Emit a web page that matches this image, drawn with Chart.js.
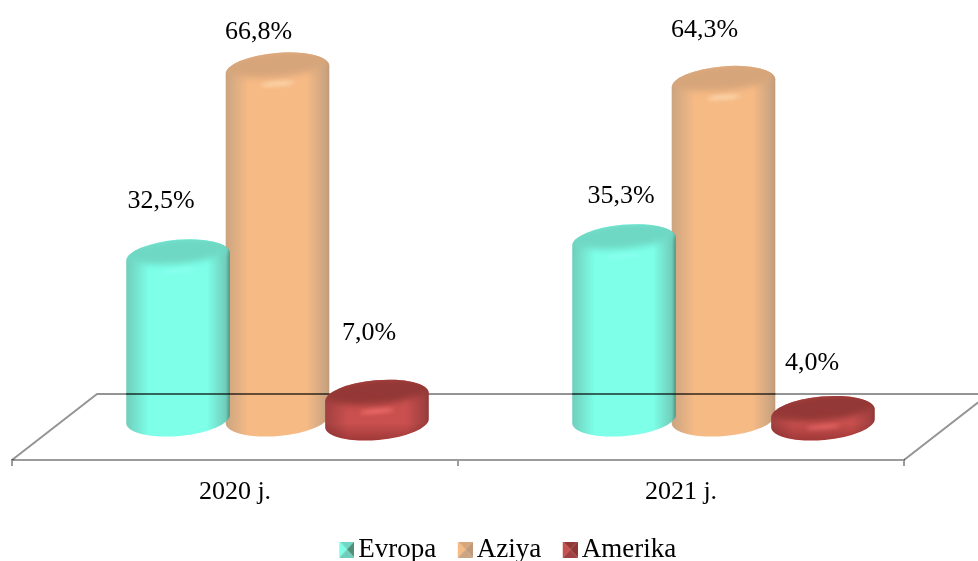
<!DOCTYPE html>
<html>
<head>
<meta charset="utf-8">
<title>Chart</title>
<script src="https://cdn.jsdelivr.net/npm/chart.js@4"></script>
<style>
  html, body { margin: 0; padding: 0; background: #fff; }
  canvas { display: block; }
</style>
</head>
<body>
<canvas id="chart" width="978" height="561"></canvas>
<script>
const categories = ['2020 j.', '2021 j.'];
const evropa = [32.5, 35.3];
const aziya = [66.8, 64.3];
const amerika = [7.0, 4.0];

const serif = "'Liberation Serif', 'Times New Roman', serif";
const gridGrey = '#9c9c9c';

// colours of the three cylinders: rim, side edge, side middle, cap, highlight
const shades = [
  { rim: '#4f8f78', edge: '#70cdbb', mid: '#7dffe8', cap: '#6fd8c4', glow: '#8cfff0' },
  { rim: '#c09a78', edge: '#cba481', mid: '#f6ba85', cap: '#d6a57a', glow: '#fdd9b2' },
  { rim: '#8f3634', edge: '#a04040', mid: '#c9504e', cap: '#933836', glow: '#f5706e' }
];

// label nudges from the top of each bar, [series][category]
const labelNudge = [
  [[-17, -54], [-3, -44]],
  [[-19, -38], [-19, -53]],
  [[-8, -60], [-11, -46]]
];

// small perspective corrections per series
const topDrop = [1.5, 0, 4];
const bottomLift = [12, 12, 8];

const floorDepthX = 85;
const floorDepthY = 66;

function cylinder(ctx, bar, yTop, yBottom, s, dark) {
  const rx = 52, ry = 17, rot = -5 * Math.PI / 180;
  const cx = bar.x + floorDepthX / 2;

  const shape = new Path2D();
  shape.ellipse(cx, yBottom, rx, ry, rot, 0, Math.PI);
  shape.ellipse(cx, yTop, rx, ry, rot, Math.PI, Math.PI * 2);
  shape.closePath();

  const side = ctx.createLinearGradient(cx - rx, 0, cx + rx, 0);
  side.addColorStop(0, s.edge);
  side.addColorStop(0.22, s.mid);
  side.addColorStop(0.78, s.mid);
  side.addColorStop(0.96, s.edge);
  side.addColorStop(1, s.rim);

  ctx.save();
  ctx.fillStyle = side;
  ctx.fill(shape);
  ctx.clip(shape);

  // soft dark top that fades into the side, small highlight at the front
  ctx.filter = 'blur(3px)';
  ctx.fillStyle = s.cap;
  ctx.beginPath();
  ctx.ellipse(cx, yTop - 6, rx + 1, ry - 4, rot, 0, Math.PI * 2);
  ctx.fill();
  ctx.filter = 'blur(2px)';
  ctx.fillStyle = s.glow;
  ctx.beginPath();
  ctx.ellipse(cx, yTop + ry - 3, 17, 2, rot, 0, Math.PI * 2);
  ctx.fill();
  ctx.filter = 'none';

  if (dark) {
    const low = ctx.createLinearGradient(0, yBottom, 0, yBottom + ry);
    low.addColorStop(0, 'rgba(110,30,30,0)');
    low.addColorStop(1, 'rgba(110,30,30,0.45)');
    ctx.fillStyle = low;
    ctx.fill(shape);
  }
  ctx.restore();
}

function drawSeries(chart, i) {
  const zero = chart.scales.y.getPixelForValue(0);
  chart.getDatasetMeta(i).data.forEach((bar) => {
    cylinder(chart.ctx, bar, bar.y + topDrop[i], zero - bottomLift[i], shades[i], i === 2);
  });
}

const cylinders = {
  id: 'cylinders',
  afterLayout(chart) {
    // legend sits lower and further right than the default box allows
    chart.legend.left += 39;
    chart.legend.right += 39;
    chart.legend.top += 12;
    chart.legend.bottom += 12;
  },
  beforeDatasetsDraw(chart) {
    drawSeries(chart, 1);
    drawSeries(chart, 0);
  },
  afterDatasetsDraw(chart) {
    const { ctx, chartArea } = chart;

    // floor outline runs through the see-through bars but behind the red ones
    const x0 = chartArea.left, x1 = chartArea.right, y0 = chartArea.bottom;
    const yBack = y0 - floorDepthY;
    ctx.save();
    ctx.strokeStyle = 'rgba(0,0,0,0.42)';
    ctx.lineWidth = 2;
    ctx.lineJoin = 'round';
    ctx.beginPath();
    ctx.moveTo(x0, y0);
    ctx.lineTo(x0 + floorDepthX, yBack);
    ctx.lineTo(x1 + floorDepthX, yBack);
    ctx.lineTo(x1, y0);
    ctx.stroke();

    // line reads darker where it shows through the bars
    ctx.strokeStyle = 'rgba(0,0,0,0.3)';
    chart.getDatasetMeta(0).data.forEach((bar, j) => {
      const next = chart.getDatasetMeta(1).data[j];
      ctx.beginPath();
      ctx.moveTo(bar.x + floorDepthX / 2 - 52, yBack);
      ctx.lineTo(next.x + floorDepthX / 2 + 52, yBack);
      ctx.stroke();
    });
    ctx.restore();

    drawSeries(chart, 2);

    // value labels
    ctx.save();
    ctx.font = '26px ' + serif;
    ctx.fillStyle = '#000';
    ctx.textAlign = 'center';
    ctx.textBaseline = 'middle';
    chart.data.datasets.forEach((ds, i) => {
      chart.getDatasetMeta(i).data.forEach((bar, j) => {
        const text = ds.data[j].toFixed(1).replace('.', ',') + '%';
        const nudge = labelNudge[i][j];
        ctx.fillText(text, bar.x + floorDepthX / 2 + nudge[0], bar.y + nudge[1]);
      });
    });
    ctx.restore();
  }
};

// legend swatch: small bevelled square, sits at the right of a wider canvas
function legendIcon(s) {
  const c = document.createElement('canvas');
  c.width = 46;
  c.height = 16;
  const g = c.getContext('2d');
  const a = 31, b = 46, h = 16;
  const tri = (pts, col) => {
    g.fillStyle = col;
    g.beginPath();
    g.moveTo(pts[0], pts[1]);
    g.lineTo(pts[2], pts[3]);
    g.lineTo(a + 7.5, h / 2);
    g.closePath();
    g.fill();
  };
  tri([a, 0, b, 0], s.cap);
  tri([a, 0, a, h], s.mid);
  tri([b, 0, b, h], s.rim);
  tri([a, h, b, h], s.edge);
  return c;
}

new Chart(document.getElementById('chart'), {
  type: 'bar',
  plugins: [cylinders],
  data: {
    labels: categories,
    datasets: [
      { label: 'Evropa', data: evropa, backgroundColor: 'transparent' },
      { label: 'Aziya', data: aziya, backgroundColor: 'transparent' },
      { label: 'Amerika', data: amerika, backgroundColor: 'transparent' }
    ]
  },
  options: {
    responsive: false,
    animation: false,
    layout: { padding: { left: 12, right: 74, top: 10, bottom: 0 } },
    categoryPercentage: 0.669,
    barPercentage: 1,
    scales: {
      x: {
        afterFit(scale) { scale.height = 64; },
        border: { color: gridGrey, width: 2 },
        grid: { drawOnChartArea: false, drawTicks: true, tickLength: 6, color: gridGrey, lineWidth: 2 },
        ticks: { color: '#000', padding: 11, maxRotation: 0, font: { family: serif, size: 26 } }
      },
      y: { display: false, min: -5.35, max: 77.86 }
    },
    plugins: {
      tooltip: { enabled: false },
      legend: {
        position: 'bottom',
        labels: {
          color: '#000',
          font: { family: serif, size: 27, lineHeight: 1 },
          usePointStyle: true,
          boxWidth: 30,
          boxHeight: 16,
          padding: 0,
          generateLabels(chart) {
            return chart.data.datasets.map((ds, i) => ({
              text: ds.label,
              datasetIndex: i,
              fontColor: '#000',
              fillStyle: shades[i].mid,
              strokeStyle: 'transparent',
              lineWidth: 0,
              pointStyle: legendIcon(shades[i])
            }));
          }
        }
      }
    }
  }
});
</script>
</body>
</html>
